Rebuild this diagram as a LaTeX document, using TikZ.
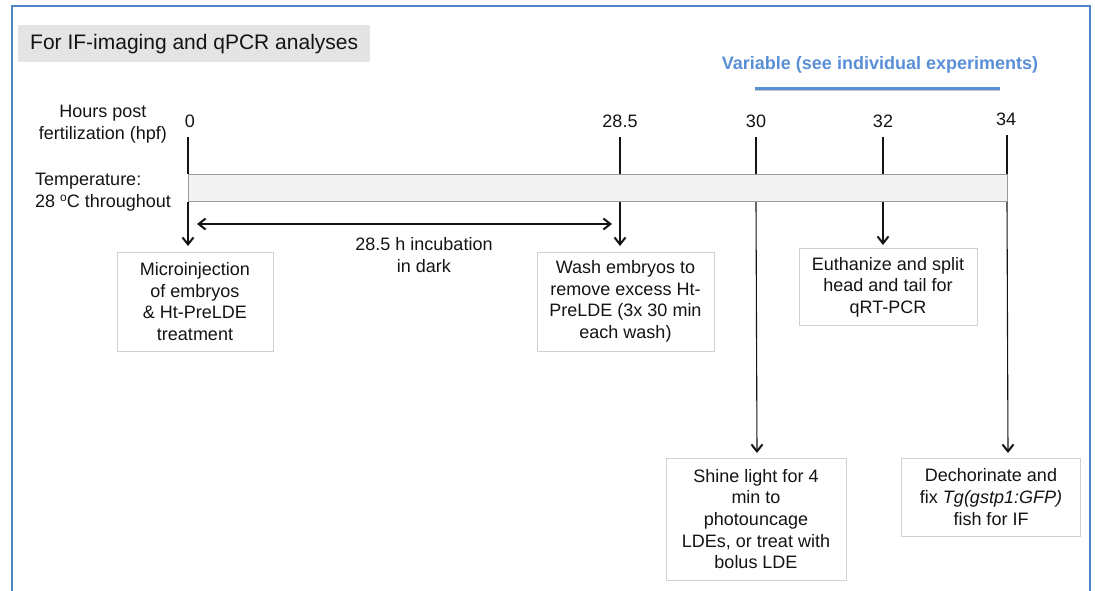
\documentclass[tikz,border=0pt]{standalone}
\usepackage{fontspec}
\setmainfont{Liberation Sans}
\usetikzlibrary{arrows.meta}
\definecolor{frameblue}{HTML}{4F86C6}
\definecolor{varblue}{HTML}{5A8FD6}
\definecolor{ink}{HTML}{141414}
\definecolor{titlegray}{HTML}{E4E4E4}
\definecolor{boxgray}{HTML}{D2D2D2}
\definecolor{barfill}{HTML}{F3F3F3}
\definecolor{barline}{HTML}{9A9A9A}
\tikzset{
  txt/.style={font=\fontsize{18}{21.6}\selectfont, text=ink, inner sep=0pt, align=center},
  stepbox/.style={txt, draw=boxgray, line width=1pt, fill=white},
  tick/.style={draw=ink, line width=1.1pt},
  barb/.style={},
  arr/.style={draw=ink, line width=1.1pt, -{Straight Barb[length=7pt,width=11pt,line width=2pt]}},
  dblarr/.style={draw=ink, line width=1.1pt, {Straight Barb[length=7pt,width=11pt,line width=2pt]}-{Straight Barb[length=7pt,width=11pt,line width=2pt]}},
}
\begin{document}
\begin{tikzpicture}[x=1pt,y=-1pt]
\useasboundingbox (0,0) rectangle (1095,590);
% frame
\draw[frameblue, line width=1.5pt] (12,592) -- (12,6) -- (1090,6) -- (1090,592);
% title
\node[txt, font=\fontsize{21}{24}\selectfont, fill=titlegray, minimum height=37pt, inner xsep=12pt, anchor=north west] (title) at (18,25) {For IF-imaging and qPCR analyses};
% variable label
\node[txt, font=\fontsize{18}{21.6}\selectfont\bfseries, text=varblue] (var) at (880,65) {Variable (see individual experiments)};
\coordinate (vl) at (755,88);
\coordinate (vr) at (1000,88);
\draw[black!22, line width=3pt] ([yshift=-1.5pt]vl) -- ([yshift=-1.5pt]vr);
\draw[varblue, line width=3pt] (vl) -- (vr);
% left labels
\node[txt] (hpf) at (103,124) {Hours post\\fertilization (hpf)};
\node[txt, align=left, anchor=west] (temp) at (35,192) {Temperature:\\28 \raisebox{0.55ex}{\fontsize{12}{12}\selectfont o}C throughout};
% time labels
\node[txt] (h0) at (190,121) {0};
\node[txt] (h285) at (620,121) {28.5};
\node[txt] (h30) at (756,121) {30};
\node[txt] (h32) at (883,121) {32};
\node[txt] (h34) at (1006,119) {34};
% tick coordinates
\coordinate (c0) at (188,137);
\coordinate (c285) at (620,137);
\coordinate (c30) at (756,137);
\coordinate (c32) at (883,137);
\coordinate (c34) at (1007,135);
% bar
\node[draw=barline, fill=barfill, line width=1pt, minimum width=819pt, minimum height=27pt, inner sep=0pt, anchor=north west] (bar) at (188,174) {};
\foreach \c in {c0,c285,c30,c32,c34} \draw[tick] (\c) -- (\c |- bar.north);
% boxes
\node[stepbox, minimum width=156pt, minimum height=99pt] (inj) at (195,301.5) {Microinjection\\of embryos\\\& Ht-PreLDE\\treatment};
\node[stepbox, minimum width=177pt, minimum height=99pt] (wash) at (625.5,301.5) {Wash embryos to\\remove excess Ht-\\PreLDE (3x 30 min\\each wash)};
\node[stepbox, minimum width=178pt, minimum height=77pt] (euth) at (888,287) {Euthanize and split\\head and tail for\\qRT-PCR};
\node[stepbox, minimum width=180pt, minimum height=122pt] (shine) at (756,519) {Shine light for 4\\min to\\photouncage\\LDEs, or treat with\\bolus LDE};
\node[stepbox, minimum width=179pt, minimum height=78pt] (dech) at (991,497) {Dechorinate and\\fix \textit{Tg(gstp1:GFP)}\\fish for IF};
% arrow end coordinates
\coordinate (e0) at (188,246);
\coordinate (e285) at (620,246);
\coordinate (e32) at (883,245);
\coordinate (e30) at (757,453);
\coordinate (e34) at (1008,453);
\draw[arr] (c0 |- bar.south) -- (e0);
\draw[arr] (c285 |- bar.south) -- (e285);
\draw[arr] (c32 |- bar.south) -- (e32);
\draw[arr] (c30 |- bar.south) -- (e30);
\draw[arr] (c34 |- bar.south) -- (e34);
% incubation
\coordinate (dl) at (197,224);
\coordinate (dr) at (612,224);
\draw[dblarr] (dl) -- (dr);
\node[txt] (inc) at (424,255) {28.5 h incubation\\in dark};
\end{tikzpicture}
\end{document}
